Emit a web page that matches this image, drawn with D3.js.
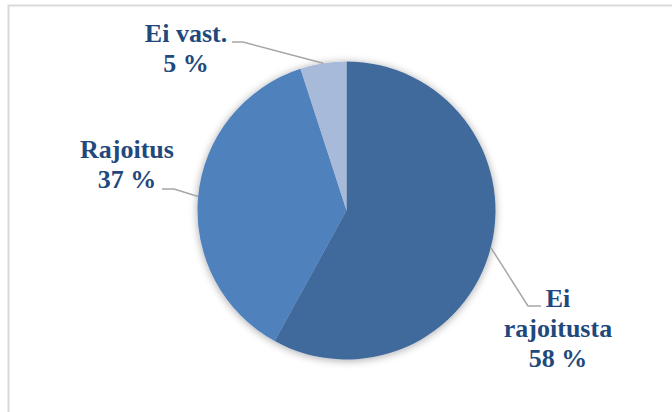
<!DOCTYPE html>
<html>
<head>
<meta charset="utf-8">
<script src="https://cdn.jsdelivr.net/npm/d3@7"></script>
<style>
    body { margin: 0; background: #fff; }
</style>
</head>
<body>
<script>
// ===== data =====
var categories = ["Ei rajoitusta", "Rajoitus", "Ei vast."];
var values = [58, 37, 5];
var labelLines = [["Ei", "rajoitusta", "58 %"], ["Rajoitus", "37 %"], ["Ei vast.", "5 %"]];

// ===== constants =====
var w = 672, h = 412;
var cx = 346.5, cy = 210.5, radius = 149;
var sliceColors = ["#416A9C", "#4F81BD", "#A8BAD9"];
var textColor = "#1F497D";
var leaderColor = "#a6a6a6";
var fontSize = 26;
var lineGap = 30;

var svg = d3.select("body").append("svg")
    .attr("width", w)
    .attr("height", h);

// chart area border
svg.append("rect")
    .attr("x", 8.5).attr("y", 5.5)
    .attr("width", w + 20).attr("height", h + 20)
    .attr("fill", "#fff")
    .attr("stroke", "#d9d9d9")
    .attr("stroke-width", 2);

// soft shadow for the pie
var defs = svg.append("defs");
var filt = defs.append("filter").attr("id", "shadow")
    .attr("x", "-20%").attr("y", "-20%").attr("width", "140%").attr("height", "140%");
filt.append("feGaussianBlur").attr("in", "SourceAlpha").attr("stdDeviation", 4);
filt.append("feOffset").attr("dx", 0).attr("dy", 1).attr("result", "blur");
filt.append("feComponentTransfer").append("feFuncA").attr("type", "linear").attr("slope", 0.35);
var merge = filt.append("feMerge");
merge.append("feMergeNode");
merge.append("feMergeNode").attr("in", "SourceGraphic");

var pie = d3.pie().sort(null).value(function (d) { return d; });
var arcs = pie(values);
var arc = d3.arc().innerRadius(0).outerRadius(radius);

var g = svg.append("g")
    .attr("transform", "translate(" + cx + "," + cy + ")");

g.append("g").attr("filter", "url(#shadow)")
    .selectAll("path")
    .data(arcs)
    .enter().append("path")
    .attr("d", arc)
    .attr("fill", function (d, i) { return sliceColors[i]; });

// label positions: [anchor x, first baseline y, leader elbow x, leader end x]
var labelPos = [
    { x: 558, y: 307, elbowX: 528, elbowY: 306, endX: 541 },
    { x: 127, y: 158, elbowX: 174, elbowY: 189, endX: 162 },
    { x: 186, y: 42, elbowX: 243, elbowY: 42, endX: 232 }
];

arcs.forEach(function (a, i) {
    var mid = (a.startAngle + a.endAngle) / 2;
    var px = cx + radius * Math.sin(mid);
    var py = cy - radius * Math.cos(mid);
    var p = labelPos[i];
    svg.append("polyline")
        .attr("points", px + "," + py + " " + p.elbowX + "," + p.elbowY + " " + p.endX + "," + p.elbowY)
        .attr("fill", "none")
        .attr("stroke", leaderColor)
        .attr("stroke-width", 1.5);

    var t = svg.append("text")
        .attr("text-anchor", "middle")
        .attr("font-family", "'Liberation Serif', 'Times New Roman', serif")
        .attr("font-weight", "bold")
        .attr("font-size", fontSize)
        .attr("fill", textColor);
    labelLines[i].forEach(function (line, j) {
        t.append("tspan")
            .attr("x", p.x)
            .attr("y", p.y + j * lineGap)
            .text(line);
    });
});
</script>
</body>
</html>
